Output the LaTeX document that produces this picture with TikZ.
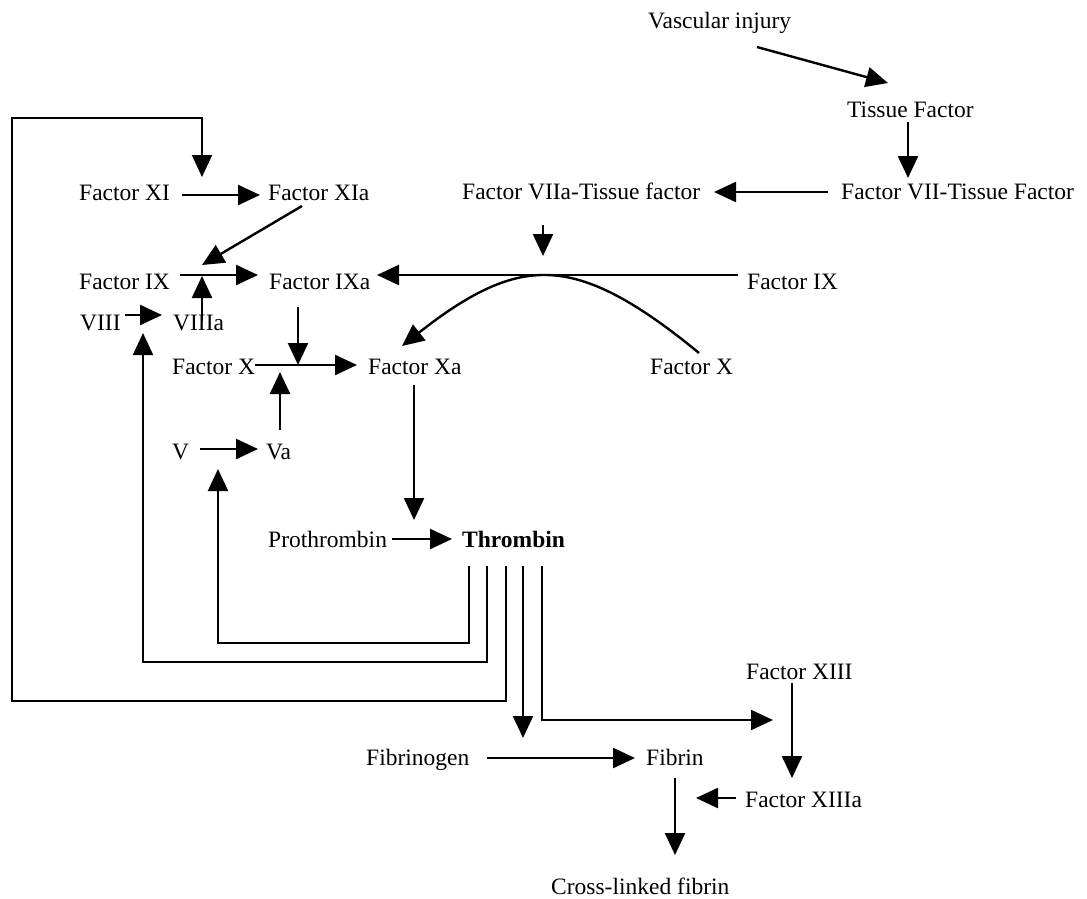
\documentclass[tikz,border=0pt]{standalone}
\usepackage{fontspec}
\setmainfont{Liberation Serif}
\usetikzlibrary{arrows.meta}
\begin{document}
\begin{tikzpicture}[x=1pt,y=-1pt,
  lbl/.style={anchor=west,inner sep=0pt,font=\fontsize{23.5}{26}\selectfont,text height=15.5pt,text depth=0pt},
  arr/.style={line width=2.4pt,-{Triangle[length=22pt,width=20pt]}},
  fb/.style={arr,line width=2pt},
  ]
\useasboundingbox (0,0) rectangle (1087,899);
% labels
\node[lbl] (vi) at (648,21) {Vascular injury};
\node[lbl] (tf) at (847,110) {Tissue Factor};
\node[lbl] (f7tf) at (841,192) {Factor VII-Tissue Factor};
\node[lbl] (f7atf) at (462,192) {Factor VIIa-Tissue factor};
\node[lbl] (f11) at (79,193) {Factor XI};
\node[lbl] (f11a) at (268,193) {Factor XIa};
\node[lbl] (f9) at (79,282) {Factor IX};
\node[lbl] (f9a) at (269,282) {Factor IXa};
\node[lbl] (f9r) at (747,282) {Factor IX};
\node[lbl] (f8) at (80,323) {VIII};
\node[lbl] (f8a) at (173,323) {VIIIa};
\node[lbl] (f10) at (172,367) {Factor X};
\node[lbl] (f10a) at (368,367) {Factor Xa};
\node[lbl] (f10r) at (650,367) {Factor X};
\node[lbl] (f5) at (172,452) {V};
\node[lbl] (f5a) at (266,452) {Va};
\node[lbl] (pro) at (268,540) {Prothrombin};
\node[lbl,font=\fontsize{23.5}{26}\selectfont\bfseries] (thr) at (462,540) {Thrombin};
\node[lbl] (f13) at (746,672) {Factor XIII};
\node[lbl] (fbg) at (366,758) {Fibrinogen};
\node[lbl] (fbn) at (646,758) {Fibrin};
\node[lbl] (f13a) at (745,800) {Factor XIIIa};
\node[lbl] (clf) at (551,887) {Cross-linked fibrin};
% connector end points
\coordinate (vi-o) at (757,47);   \coordinate (tf-i) at (888,83);
\coordinate (tf-o) at (908,122);  \coordinate (f7tf-i) at (908,178);
\coordinate (f7tf-o) at (828,192); \coordinate (f7atf-i) at (714,192);
\coordinate (f7atf-o) at (543,225); \coordinate (jn-top) at (543,256);
\coordinate (f9r-o) at (738,275); \coordinate (f9a-i) at (377,275);
\coordinate (f10r-o) at (699,353); \coordinate (apex) at (541,275);
\coordinate (f10a-ci) at (402,346);
\coordinate (f11-o) at (182,195); \coordinate (f11a-i) at (260,195);
\coordinate (f11a-o) at (302,206); \coordinate (jn9) at (202,265);
\coordinate (f9-o) at (180,275); \coordinate (f9a-li) at (258,275);
\coordinate (f8a-o) at (202,321); \coordinate (jn9b) at (202,276);
\coordinate (f8-o) at (125,315); \coordinate (f8a-i) at (162,315);
\coordinate (f9a-o) at (298,307); \coordinate (jn10) at (298,365);
\coordinate (f10-o) at (255,365); \coordinate (f10a-i) at (357,365);
\coordinate (f5a-o) at (280,430); \coordinate (jn10b) at (280,372);
\coordinate (f5-o) at (200,449); \coordinate (f5a-i) at (258,449);
\coordinate (f10a-o) at (414,385); \coordinate (jnthr) at (414,520);
\coordinate (pro-o) at (392,539); \coordinate (thr-i) at (452,539);
\coordinate (t1) at (469,566); \coordinate (t2) at (487,566);
\coordinate (t3) at (506,566); \coordinate (t4) at (523,566);
\coordinate (t5) at (542,566);
\coordinate (f5-i) at (218,469); \coordinate (f8-i) at (143,333);
\coordinate (f11-i) at (202,177);
\coordinate (fbg-i) at (523,738); \coordinate (f13-i) at (773,720);
\coordinate (f13-o) at (792,683); \coordinate (f13a-in) at (792,778);
\coordinate (fbg-o) at (487,758); \coordinate (fbn-i) at (635,758);
\coordinate (fbn-o) at (675,778); \coordinate (clf-i) at (675,855);
\coordinate (f13a-o) at (736,798); \coordinate (f13a-t) at (696,798);
% extrinsic
\draw[arr] (vi-o) -- (tf-i);
\draw[arr] (tf-o) -- (f7tf-i);
\draw[arr] (f7tf-o) -- (f7atf-i);
\draw[arr] (f7atf-o) -- (jn-top);
\draw[arr] (f9r-o) -- (f9a-i);
\draw[arr] (f10r-o) .. controls (625,292) and (580,274) .. (apex)
  .. controls (505,276) and (468,294) .. (f10a-ci);
% intrinsic
\draw[arr] (f11-o) -- (f11a-i);
\draw[arr] (f11a-o) -- (jn9);
\draw[arr] (f9-o) -- (f9a-li);
\draw[arr] (f8a-o) -- (jn9b);
\draw[arr] (f8-o) -- (f8a-i);
\draw[arr] (f9a-o) -- (jn10);
\draw[arr] (f10-o) -- (f10a-i);
\draw[arr] (f5a-o) -- (jn10b);
\draw[arr] (f5-o) -- (f5a-i);
\draw[arr] (f10a-o) -- (jnthr);
\draw[arr] (pro-o) -- (thr-i);
% thrombin feedback
\draw[fb] (t1) -- (469,643) -- (218,643) -- (f5-i);
\draw[fb] (t2) -- (487,662) -- (143,662) -- (f8-i);
\draw[fb] (t3) -- (506,701) -- (12,701) -- (12,118) -- (202,118) -- (f11-i);
\draw[fb] (t4) -- (fbg-i);
\draw[fb] (t5) -- (542,720) -- (f13-i);
% fibrin
\draw[arr] (f13-o) -- (f13a-in);
\draw[arr] (fbg-o) -- (fbn-i);
\draw[arr] (fbn-o) -- (clf-i);
\draw[arr] (f13a-o) -- (f13a-t);
\end{tikzpicture}
\end{document}
